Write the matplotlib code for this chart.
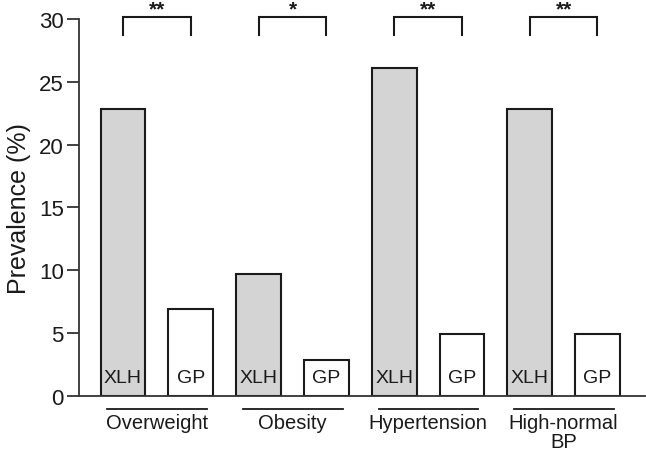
import matplotlib
matplotlib.use("Agg")
import matplotlib.pyplot as plt

plt.rcParams['font.family'] = ['Liberation Sans', 'DejaVu Sans']

groups = ["Overweight", "Obesity", "Hypertension", "High-normal\nBP"]
xlh_values = [22.8, 9.7, 26.1, 22.8]
gp_values = [6.9, 2.9, 4.9, 4.9]
significance = ["**", "*", "**", "**"]
bar_labels = ["XLH", "GP"]

fig = plt.figure(figsize=(6.46, 4.56), dpi=100)
ax = fig.add_axes([0.1223, 0.1294, 0.876, 0.8268])

width = 0.66
ink = "#1a1a1a"
for i, g in enumerate(groups):
    x0 = 2 * i
    x1 = 2 * i + 1
    ax.bar(x0, xlh_values[i], width, color="#d4d4d4", edgecolor=ink, linewidth=1.5, zorder=2)
    ax.bar(x1, gp_values[i], width, color="white", edgecolor=ink, linewidth=1.5, zorder=2)
    ax.text(x0, 1.45, bar_labels[0], ha="center", va="center", fontsize=14, color=ink, zorder=3)
    ax.text(x1, 1.45, bar_labels[1], ha="center", va="center", fontsize=14, color=ink, zorder=3)
    # significance bracket
    ax.plot([x0, x0, x1, x1], [28.7, 30.15, 30.15, 28.7], color=ink, lw=1.5, clip_on=False,
            solid_joinstyle="miter")
    ax.text((x0 + x1) / 2, 30.8, significance[i], ha="center", va="center", fontsize=15,
            fontweight="bold", color=ink, clip_on=False)
    # group underline
    ax.plot([x0 - 0.23, x1 + 0.24], [-1.05, -1.05], color=ink, lw=1.3, clip_on=False)
    ax.text((x0 + x1) / 2, -1.35, g, ha="center", va="top", fontsize=14.5, color=ink,
            linespacing=1.0)

ax.set_xlim(-0.65, 7.7)
ax.set_ylim(0, 30)
ax.set_yticks([0, 5, 10, 15, 20, 25, 30])
ax.set_xticks([])
for s in ["top", "right"]:
    ax.spines[s].set_visible(False)
for s in ["left", "bottom"]:
    ax.spines[s].set_color("#333333")
    ax.spines[s].set_linewidth(1.3)
ax.tick_params(axis="y", length=9, width=1.3, color="#333333", labelsize=16, labelcolor=ink, pad=2)
ax.set_ylabel("Prevalence (%)", fontsize=18, color=ink, labelpad=6)

fig.savefig("out.png", dpi=100)
